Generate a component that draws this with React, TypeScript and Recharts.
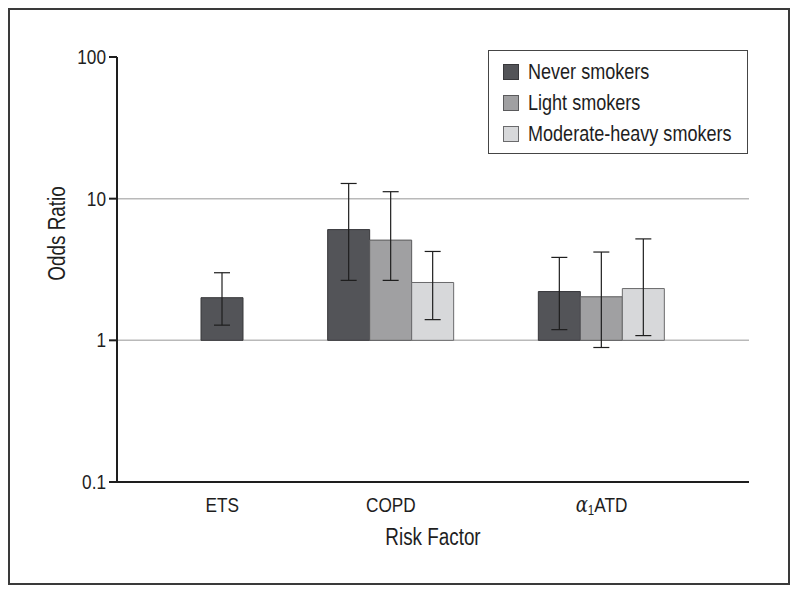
import React from 'react';
import { BarChart, Bar, XAxis, YAxis, CartesianGrid, ErrorBar, Legend, Label, Cell } from 'recharts';

// odds ratios with 95% CI (null = not reported)
const factors = ['ETS', 'COPD', 'α1ATD'];

const neverOR = [2.0, 6.05, 2.21];
const neverLow = [1.28, 2.65, 1.19];
const neverHigh = [3.0, 12.8, 3.85];

const lightOR = [null, 5.1, 2.03];
const lightLow = [null, 2.65, 0.89];
const lightHigh = [null, 11.2, 4.2];

const heavyOR = [null, 2.56, 2.32];
const heavyLow = [null, 1.4, 1.08];
const heavyHigh = [null, 4.24, 5.2];

const yTicks = [0.1, 1, 10, 100];
const gridValues = [1, 10];

const BASE = 1; // bars grow from OR = 1
const SLOTS = 5; // bar slots per category band
// no narrow face installed, so Liberation Sans is squeezed horizontally
const FONT = '"Liberation Sans", Arial, sans-serif';
const NARROW = 0.82;
const INK = '#1e1e1e';

const series = [
  { key: 'never', name: 'Never smokers', fill: '#535458', stroke: '#38383b', values: neverOR, low: neverLow, high: neverHigh },
  { key: 'light', name: 'Light smokers', fill: '#a0a0a2', stroke: '#5a5a5c', values: lightOR, low: lightLow, high: lightHigh },
  { key: 'heavy', name: 'Moderate-heavy smokers', fill: '#d7d8da', stroke: '#6a6a6c', values: heavyOR, low: heavyLow, high: heavyHigh },
];

const table = factors.map((factor, i) => {
  const row: any = { factor };
  const present = series.filter((s) => s.values[i] != null);
  row.solo = present.length === 1;
  present.forEach((s) => {
    const v = s.values[i] as number;
    const key = row.solo ? 'single' : s.key;
    row[key] = [BASE, v];
    row[key + 'Err'] = [v - (s.low[i] as number), (s.high[i] as number) - v];
    if (row.solo) row.singleFill = s.fill;
  });
  return row;
});

function NarrowText({ x, y, rotate = 0, anchor = 'middle', size = 21, dy = 0, baseline, children }: any) {
  return (
    <text
      transform={`translate(${x} ${y}) rotate(${rotate}) scale(${NARROW} 1)`}
      x={0}
      y={0}
      dy={dy}
      textAnchor={anchor}
      dominantBaseline={baseline}
      fill={INK}
      fontSize={size}
      fontFamily={FONT}
    >
      {children}
    </text>
  );
}

function FactorTick(props: any) {
  const { x, y, payload } = props;
  const row = table[payload.index];
  const band = 2 * (payload.offset || 0);
  // grouped categories: label sits under the middle of the three bars
  const cx = row && !row.solo ? x - band / SLOTS : x;
  const m = String(payload.value).match(/^(α)(\d)(.*)$/);
  return (
    <NarrowText x={cx} y={y} dy={30}>
      {m ? (
        <>
          <tspan fontFamily="'DejaVu Serif', serif" fontStyle="italic" fontSize={22}>{m[1]}</tspan>
          <tspan fontSize={14} dy={3}>{m[2]}</tspan>
          <tspan dy={-3}>{m[3]}</tspan>
        </>
      ) : (
        payload.value
      )}
    </NarrowText>
  );
}

function OddsTick(props: any) {
  const { x, y, payload } = props;
  return (
    <NarrowText x={x} y={y} anchor="end" baseline="central">
      {payload.value}
    </NarrowText>
  );
}

function YTitle(props: any) {
  const { viewBox } = props;
  return (
    <NarrowText x={viewBox.x + 47} y={viewBox.y + viewBox.height / 2 - 36} rotate={-90} size={23} baseline="central">
      Odds Ratio
    </NarrowText>
  );
}

function XTitle(props: any) {
  const { viewBox } = props;
  return (
    <NarrowText x={viewBox.x + viewBox.width / 2} y={viewBox.y + viewBox.height - 7} size={23}>
      Risk Factor
    </NarrowText>
  );
}

function LegendBox() {
  return (
    <div
      style={{
        border: '1.5px solid #454545',
        boxSizing: 'border-box',
        height: 104,
        padding: '5px 0 0 14px',
        fontFamily: FONT,
        fontSize: 22,
        color: INK,
        background: '#fff',
        overflow: 'hidden',
      }}
    >
      {series.map((s) => (
        <div key={s.key} style={{ display: 'flex', alignItems: 'center', height: 31, whiteSpace: 'nowrap' }}>
          <span
            style={{
              display: 'inline-block',
              flex: 'none',
              width: 16,
              height: 16,
              boxSizing: 'border-box',
              background: s.fill,
              border: `1px solid ${s.stroke}`,
              marginRight: 9,
            }}
          />
          <span style={{ display: 'inline-block', transform: `scaleX(${NARROW})`, transformOrigin: 'left center' }}>
            {s.name}
          </span>
        </div>
      ))}
    </div>
  );
}

export default function App() {
  return (
    <div style={{ width: 778, height: 573, border: '2px solid #3a3a3a', background: '#fff' }}>
      <BarChart
        width={778}
        height={573}
        data={table}
        margin={{ top: 47, right: 39, left: 0, bottom: 31 }}
        barSize={42}
        barGap={0}
      >
        <CartesianGrid horizontal vertical={false} horizontalValues={gridValues} stroke="#b9b9b9" strokeWidth={1.5} />
        <XAxis
          xAxisId="main"
          dataKey="factor"
          height={70}
          tickLine={false}
          tickSize={0}
          tickMargin={0}
          axisLine={{ stroke: INK, strokeWidth: 2 }}
          tick={<FactorTick />}
          interval={0}
        >
          <Label content={<XTitle />} />
        </XAxis>
        <XAxis xAxisId="single" dataKey="factor" hide />
        <YAxis
          scale="log"
          domain={[0.1, 100]}
          ticks={yTicks}
          allowDataOverflow
          width={107}
          tickSize={8}
          tickMargin={3}
          axisLine={{ stroke: INK, strokeWidth: 2 }}
          tickLine={{ stroke: INK, strokeWidth: 2 }}
          tick={<OddsTick />}
        >
          <Label content={<YTitle />} />
        </YAxis>
        {series.map((s) => (
          <Bar
            key={s.key}
            xAxisId="main"
            dataKey={s.key}
            name={s.name}
            fill={s.fill}
            stroke={s.stroke}
            strokeWidth={1}
            isAnimationActive={false}
          >
            <ErrorBar dataKey={s.key + 'Err'} direction="y" width={8} stroke={INK} strokeWidth={1.2} />
          </Bar>
        ))}
        <Bar xAxisId="main" dataKey="padA" legendType="none" isAnimationActive={false} />
        <Bar xAxisId="main" dataKey="padB" legendType="none" isAnimationActive={false} />
        <Bar
          xAxisId="single"
          dataKey="single"
          legendType="none"
          fill={series[0].fill}
          stroke={series[0].stroke}
          strokeWidth={1}
          isAnimationActive={false}
        >
          {table.map((r, i) => (
            <Cell key={i} fill={r.singleFill || series[0].fill} />
          ))}
          <ErrorBar dataKey="singleErr" direction="y" width={8} stroke={INK} strokeWidth={1.2} />
        </Bar>
        <Legend
          layout="vertical"
          align="center"
          verticalAlign="middle"
          content={<LegendBox />}
          wrapperStyle={{ top: 40, left: 478, width: 260 }}
        />
      </BarChart>
    </div>
  );
}
